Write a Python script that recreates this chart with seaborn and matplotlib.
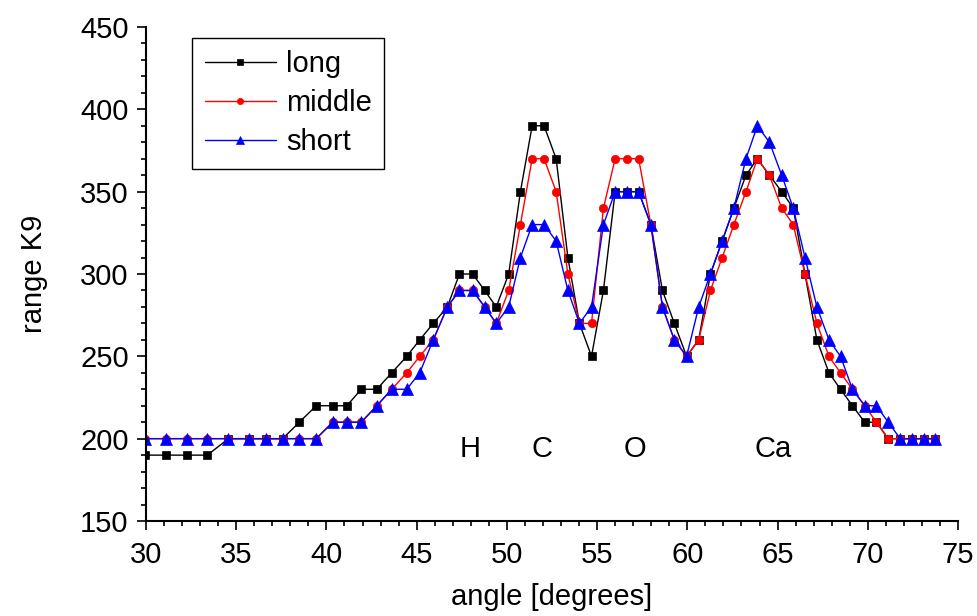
import matplotlib
matplotlib.use("Agg")
import matplotlib.pyplot as plt
import seaborn as sns
import pandas as pd
from matplotlib.ticker import MultipleLocator

angle = [29.96, 31.10, 32.27, 33.40, 34.57, 35.72, 36.65, 37.57, 38.50, 39.43,
         40.35, 41.13, 41.93, 42.79, 43.62, 44.45, 45.17, 45.92, 46.70, 47.37,
         48.10, 48.77, 49.41, 50.10, 50.75, 51.40, 52.06, 52.73, 53.38, 54.02,
         54.69, 55.35, 56.00, 56.63, 57.30, 57.98, 58.62, 59.28, 59.96, 60.63,
         61.28, 61.93, 62.58, 63.25, 63.88, 64.55, 65.23, 65.87, 66.52, 67.18,
         67.85, 68.49, 69.15, 69.83, 70.48, 71.13, 71.80, 72.46, 73.10, 73.75]

long_vals = [190, 190, 190, 190, 200, 200, 200, 200, 210, 220,
             220, 220, 230, 230, 240, 250, 260, 270, 280, 300,
             300, 290, 280, 300, 350, 390, 390, 370, 310, 270,
             250, 290, 350, 350, 350, 330, 290, 270, 250, 260,
             300, 320, 340, 360, 370, 360, 350, 340, 300, 260,
             240, 230, 220, 210, 210, 200, 200, 200, 200, 200]

middle_vals = [200, 200, 200, 200, 200, 200, 200, 200, 200, 200,
               210, 210, 210, 220, 230, 240, 250, 260, 280, 290,
               290, 280, 270, 290, 330, 370, 370, 350, 300, 270,
               270, 340, 370, 370, 370, 330, 280, 260, 250, 260,
               290, 310, 330, 350, 370, 360, 340, 330, 300, 270,
               250, 240, 230, 220, 210, 200, 200, 200, 200, 200]

short_vals = [200, 200, 200, 200, 200, 200, 200, 200, 200, 200,
              210, 210, 210, 220, 230, 230, 240, 260, 280, 290,
              290, 280, 270, 280, 310, 330, 330, 320, 290, 270,
              280, 330, 350, 350, 350, 330, 280, 260, 250, 280,
              300, 320, 340, 370, 390, 380, 360, 340, 310, 280,
              260, 250, 230, 220, 220, 210, 200, 200, 200, 200]

series_names = ["long", "middle", "short"]
series_vals = [long_vals, middle_vals, short_vals]

peak_labels = ["H", "C", "O", "Ca"]
peak_x = [47.96, 51.95, 57.1, 64.75]
peak_y = [193.5, 193.5, 193.5, 193.5]

x_ticks = [30, 35, 40, 45, 50, 55, 60, 65, 70, 75]
y_ticks = [150, 200, 250, 300, 350, 400, 450]

sns.set_style("ticks")
plt.rcParams["font.family"] = ["Liberation Sans", "DejaVu Sans"]
plt.rcParams["font.size"] = 21
plt.rcParams["text.color"] = "black"
plt.rcParams["axes.labelcolor"] = "black"
plt.rcParams["xtick.color"] = "black"
plt.rcParams["ytick.color"] = "black"

fig = plt.figure(figsize=(9.77, 6.16), dpi=100)
ax = fig.add_axes([146 / 977, 1 - 521 / 616, (958 - 146) / 977, (521 - 27) / 616])

styles = {
    "long": dict(color="black", marker="s", markersize=5.4),
    "middle": dict(color="#ff0000", marker="o", markersize=6.0),
    "short": dict(color="#0000ff", marker="^", markersize=8.2),
}

for name, vals in zip(series_names, series_vals):
    df = pd.DataFrame({"angle": angle, "value": vals})
    st = styles[name]
    sns.lineplot(data=df, x="angle", y="value", ax=ax, sort=False,
                 color=st["color"], marker=st["marker"], markersize=st["markersize"],
                 markeredgecolor=st["color"], markeredgewidth=0.5,
                 linewidth=1.0, label=name)

for lab, px, py in zip(peak_labels, peak_x, peak_y):
    ax.text(px, py, lab, ha="center", va="center", fontsize=21, color="black")

ax.set_xlim(30, 75)
ax.set_ylim(150, 450)
ax.set_xticks(x_ticks)
ax.set_yticks(y_ticks)
ax.xaxis.set_minor_locator(MultipleLocator(1))
ax.yaxis.set_minor_locator(MultipleLocator(10))
ax.tick_params(which="major", direction="out", length=6.5, width=1.2, labelsize=21, pad=6)
ax.tick_params(axis="x", which="major", pad=8)
ax.tick_params(which="minor", direction="out", length=3.5, width=1.2)
for s in ["top", "right"]:
    ax.spines[s].set_visible(False)
for s in ["left", "bottom"]:
    ax.spines[s].set_linewidth(1.5)
    ax.spines[s].set_color("black")

ax.set_xlabel("angle [degrees]", fontsize=21, labelpad=10)
ax.set_ylabel("range K9", fontsize=21, labelpad=23)

leg = ax.legend(loc="upper left", bbox_to_anchor=(0.057, 0.978), borderaxespad=0,
                frameon=True, fancybox=False, edgecolor="black", fontsize=21,
                handlelength=2.45, markerscale=0.75, borderpad=0.42,
                labelspacing=0.38, handletextpad=0.35)
leg.get_frame().set_linewidth(1.0)
leg.get_frame().set_alpha(1)

fig.savefig("out.png", dpi=100)
